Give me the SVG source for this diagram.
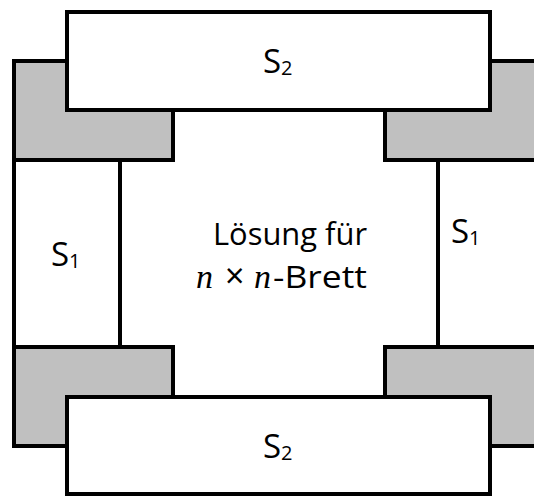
<svg xmlns="http://www.w3.org/2000/svg" width="534" height="496" viewBox="0 0 534 496">
  <style>
    .block { fill: #ffffff; stroke: #000000; stroke-width: 4; }
    .corner { fill: #c0c0c0; stroke: #000000; stroke-width: 4; }
    .edge { stroke: #000000; stroke-width: 4; fill: none; }
    .lbl { font-family: "Open Sans", "Noto Sans", "Liberation Sans", sans-serif; font-size: 33px; fill: #000000; }
    .sub { font-size: 20px; }
    .mid { font-family: "Open Sans", "Noto Sans", "Liberation Sans", sans-serif; font-size: 31px; fill: #000000; }
    .var { font-family: "Liberation Serif", "DejaVu Serif", serif; font-style: italic; font-size: 34px; }
  </style>

  <!-- grey corner pieces (partly covered by the S2 strips) -->
  <g id="corner-top-left"><rect class="corner" x="14" y="61" width="159" height="99"/></g>
  <g id="corner-top-right"><rect class="corner" x="385" y="61" width="160" height="99"/></g>
  <g id="corner-bottom-left"><rect class="corner" x="14" y="347" width="159" height="99"/></g>
  <g id="corner-bottom-right"><rect class="corner" x="385" y="347" width="160" height="99"/></g>

  <!-- side dividers between the corner pieces -->
  <g id="dividers">
    <line class="edge" x1="14" y1="158" x2="14" y2="349"/>
    <line class="edge" x1="120" y1="158" x2="120" y2="349"/>
    <line class="edge" x1="438" y1="158" x2="438" y2="349"/>
  </g>

  <!-- top and bottom S2 strips -->
  <g id="s2-top">
    <rect class="block" x="67" y="12" width="423" height="98"/>
    <text class="lbl" x="263" y="73">S<tspan class="sub" dy="2">2</tspan></text>
  </g>
  <g id="s2-bottom">
    <rect class="block" x="67" y="397" width="423" height="97"/>
    <text class="lbl" x="263" y="458">S<tspan class="sub" dy="2">2</tspan></text>
  </g>

  <!-- side S1 strips -->
  <g id="s1-left">
    <text class="lbl" x="51" y="266">S<tspan class="sub" dy="2">1</tspan></text>
  </g>
  <g id="s1-right">
    <text class="lbl" x="451" y="243">S<tspan class="sub" dy="2">1</tspan></text>
  </g>

  <!-- centre: solution for the n x n board -->
  <g id="centre">
    <text class="mid" x="213" y="245" textLength="154" lengthAdjust="spacingAndGlyphs">Lösung für</text>
    <text class="mid" y="288"><tspan class="var" x="196">n</tspan><tspan x="225" font-size="34">×</tspan><tspan class="var" x="254">n</tspan><tspan x="273" textLength="94" lengthAdjust="spacingAndGlyphs">-Brett</tspan></text>
  </g>
</svg>
